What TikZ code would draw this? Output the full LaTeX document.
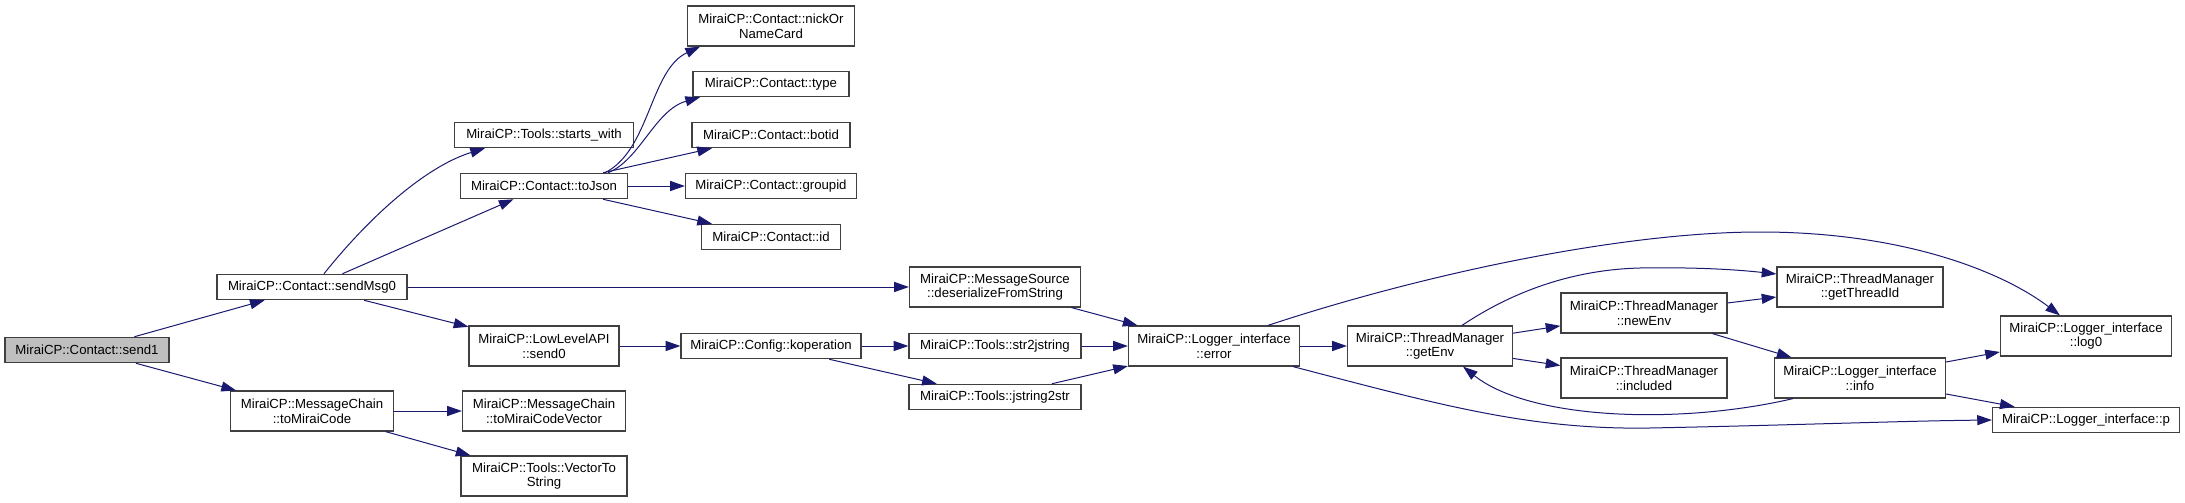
\documentclass[tikz,border=0pt]{standalone}
\usepackage{fontspec}
\setmainfont{Liberation Sans}
\usetikzlibrary{arrows.meta,calc}

\definecolor{edgeblue}{RGB}{25,25,112}
\definecolor{rootgray}{RGB}{191,191,191}

\tikzset{every picture/.style={line width=0.75pt}}
\tikzset{
  fn/.style={draw=black!75, fill=white, line width=0.9pt, inner sep=0pt,
    minimum height=19pt, align=center, font=\fontsize{9.9pt}{11pt}\selectfont},
  fn2/.style={fn, minimum height=30pt},
  wd/.style={minimum width=#1*0.75pt},
  calledge/.style={draw=edgeblue, line width=0.75pt, -{Triangle[length=11pt,width=7.5pt]}},
}

\begin{document}
\begin{tikzpicture}[x=0.75pt,y=0.75pt,yscale=-1,xscale=1]
\useasboundingbox (0,0) rectangle (2185,503);

% Nodes
\node (send1) at (87,350) [fn, wd=164, fill=rootgray] {MiraiCP::Contact::send1};
\node (sendMsg0) at (312,287) [fn, wd=190] {MiraiCP::Contact::sendMsg0};
\node (toMiraiCode) at (312,411) [fn2, wd=163] {MiraiCP::MessageChain\\::toMiraiCode};
\node (startsWith) at (544,135) [fn, wd=179] {MiraiCP::Tools::starts\_with};
\node (toJson) at (544,186) [fn, wd=167] {MiraiCP::Contact::toJson};
\node (send0) at (544,346) [fn2, wd=150] {MiraiCP::LowLevelAPI\\::send0};
\node (codeVector) at (544,411) [fn2, wd=163] {MiraiCP::MessageChain\\::toMiraiCodeVector};
\node (vecToStr) at (544,476) [fn2, wd=166] {MiraiCP::Tools::VectorTo\\String};
\node (koperation) at (771,346) [fn, wd=180] {MiraiCP::Config::koperation};
\node (nickName) at (771,26) [fn2, wd=167] {MiraiCP::Contact::nickOr\\NameCard};
\node (ctype) at (771,84) [fn, wd=156] {MiraiCP::Contact::type};
\node (botid) at (771,135) [fn, wd=158] {MiraiCP::Contact::botid};
\node (groupid) at (771,186) [fn, wd=171] {MiraiCP::Contact::groupid};
\node (cid) at (771,237) [fn, wd=139] {MiraiCP::Contact::id};
\node (deserialize) at (995,287) [fn2, wd=171] {MiraiCP::MessageSource\\::deserializeFromString};
\node (strToJ) at (995,346) [fn, wd=172] {MiraiCP::Tools::str2jstring};
\node (jToStr) at (995,397) [fn, wd=172] {MiraiCP::Tools::jstring2str};
\node (error) at (1214,346) [fn2, wd=171] {MiraiCP::Logger\_interface\\::error};
\node (getEnv) at (1430,346) [fn2, wd=165] {MiraiCP::ThreadManager\\::getEnv};
\node (newEnv) at (1644,313) [fn2, wd=166] {MiraiCP::ThreadManager\\::newEnv};
\node (included) at (1644,378) [fn2, wd=166] {MiraiCP::ThreadManager\\::included};
\node (threadId) at (1860,287) [fn2, wd=166] {MiraiCP::ThreadManager\\::getThreadId};
\node (info) at (1860,378) [fn2, wd=171] {MiraiCP::Logger\_interface\\::info};
\node (log0) at (2086,336) [fn2, wd=171] {MiraiCP::Logger\_interface\\::log0};
\node (pp) at (2086,420) [fn, wd=187] {MiraiCP::Logger\_interface::p};

% Straight calls
\draw [calledge] (send1) -- (sendMsg0);
\draw [calledge] (send1) -- (toMiraiCode);
\draw [calledge] (sendMsg0) -- (toJson);
\draw [calledge] (sendMsg0) -- (deserialize);
\draw [calledge] (sendMsg0) -- (send0);
\draw [calledge] (toJson) -- (botid);
\draw [calledge] (toJson) -- (groupid);
\draw [calledge] (toJson) -- (cid);
\draw [calledge] (toMiraiCode) -- (codeVector);
\draw [calledge] (toMiraiCode) -- (vecToStr);
\draw [calledge] (send0) -- (koperation);
\draw [calledge] (koperation) -- (strToJ);
\draw [calledge] (koperation) -- (jToStr);
\draw [calledge] (deserialize) -- (error);
\draw [calledge] (strToJ) -- (error);
\draw [calledge] (jToStr) -- (error);
\draw [calledge] (error) -- (getEnv);
\draw [calledge] (getEnv) -- (newEnv);
\draw [calledge] (getEnv) -- (included);
\draw [calledge] (newEnv) -- (threadId);
\draw [calledge] (newEnv) -- (info);
\draw [calledge] (info) -- (log0);
\draw [calledge] (info) -- (pp);

% Curved calls
\draw [calledge] ($(sendMsg0.north)+(12,0)$) .. controls (375,210) and (430,165) .. ($(startsWith.south)+(-59,0)$);
\draw [calledge] ($(toJson.north)+(61,0)$) .. controls (650,150) and (650,70) .. ($(nickName.south)+(-71,0)$);
\draw [calledge] ($(toJson.north)+(64,0)$) .. controls (640,160) and (655,110) .. ($(ctype.south)+(-71,0)$);
\draw [calledge] ($(error.north)+(54,0)$) .. controls (1420,275) and (1620,232) .. (1760,232) .. controls (1900,232) and (2000,270) .. ($(log0.north)+(-26,0)$);
\draw [calledge] ($(error.south)+(79,0)$) .. controls (1440,405) and (1530,430) .. (1650,428) .. controls (1800,425) and (1900,421) .. (pp.west);
\draw [calledge] ($(getEnv.north)+(32,0)$) .. controls (1500,300) and (1560,270) .. (1640,268) .. controls (1700,267) and (1740,270) .. ($(threadId.west)+(0,-13)$);
\draw [calledge] ($(info.south)+(-67,0)$) .. controls (1680,425) and (1530,420) .. ($(getEnv.south)+(33,0)$);

\end{tikzpicture}
\end{document}
